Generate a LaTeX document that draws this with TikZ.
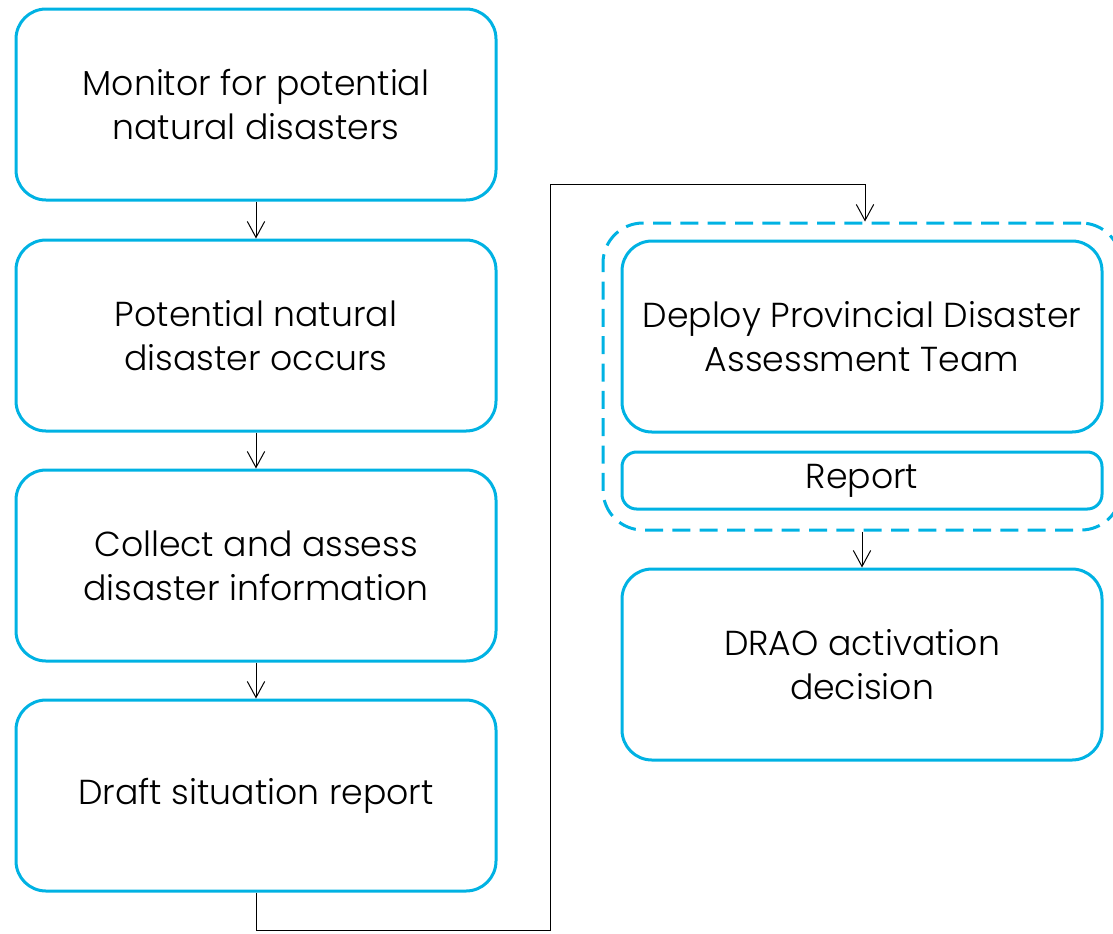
\documentclass[tikz,border=0pt]{standalone}
\usepackage{fontspec}
\setmainfont{Poppins}[UprightFont=* Light]
\usetikzlibrary{arrows.meta}
\definecolor{boxblue}{RGB}{0,178,227}
\begin{document}
\begin{tikzpicture}[x=0.75pt,y=-0.75pt,
  box/.style={draw=boxblue,line width=2.25pt,rounded corners=22.5pt,minimum width=360pt,minimum height=143.25pt,align=center,inner sep=0pt,font=\fontsize{26}{33}\selectfont},
  smallbox/.style={box,minimum height=42.75pt,rounded corners=11pt},
  dashbox/.style={draw=boxblue,line width=2.25pt,rounded corners=30pt,dash pattern=on 13.5pt off 7pt},
  conn/.style={draw=black,line width=0.75pt},
  arr/.style={conn,-{Straight Barb[length=12pt,width=13pt,line width=0.75pt]}}]
\useasboundingbox (0,0) rectangle (1113,933);
\node[box] (b1) at (256,104.5) {Monitor for potential\\natural disasters};
\node[box] (b2) at (256,335.5) {Potential natural\\disaster occurs};
\node[box] (b3) at (256,565.5) {Collect and assess\\disaster information};
\node[box] (b4) at (256,795.5) {Draft situation report};
\node[box] (dep) at (862,336.5) {Deploy Provincial Disaster\\Assessment Team};
\node[smallbox] (rep) at (862,480.5) {Report};
\node[box] (drao) at (862,664.5) {DRAO activation\\decision};
\node[dashbox,minimum width=388.5pt,minimum height=230.25pt,inner sep=0pt] (grp) at (862,376.5) {};
\draw[arr] (b1) -- (b2);
\draw[arr] (b2) -- (b3);
\draw[arr] (b3) -- (b4);
\coordinate (c1) at (550,930);
\coordinate (c2) at (550,184);
\draw[arr] (b4.south) |- (c1) -- (c2) -| ([xshift=2.25pt]grp.north);
\draw[arr] (grp.south) -- (drao.north);
\end{tikzpicture}
\end{document}
